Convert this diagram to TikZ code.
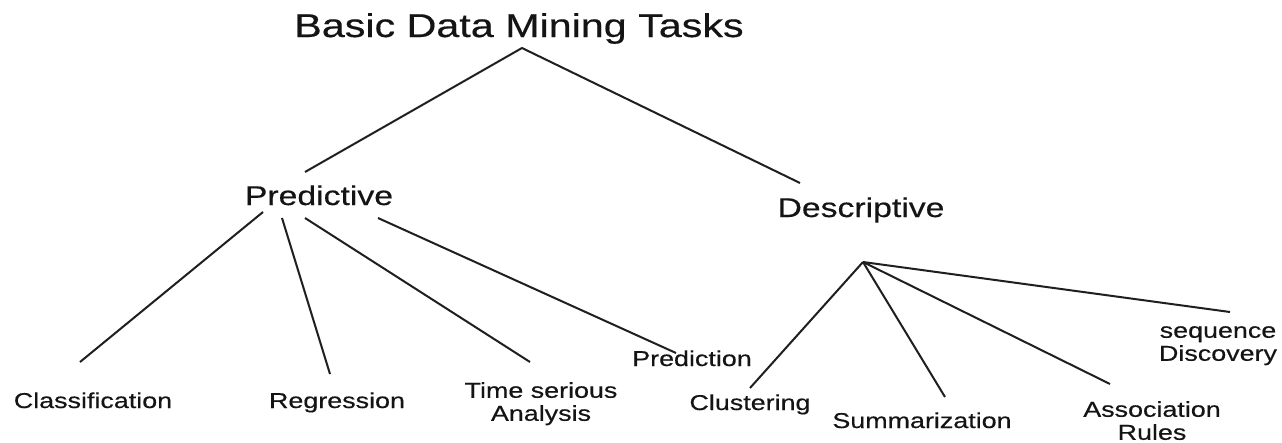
\documentclass[tikz,border=0pt]{standalone}
\usepackage{fontspec}
\setmainfont{Liberation Sans}[FakeStretch=1.25,FakeBold=0.4]
\begin{document}
\begin{tikzpicture}[x=1pt,y=-1pt,
  lbl/.style={inner sep=0pt, text=black!92, font=\fontsize{21.5}{23}\selectfont, align=center},
  big/.style={lbl, font=\fontsize{27}{30}\selectfont},
  edge/.style={draw=black!88, line width=2pt}]
\useasboundingbox (0,0) rectangle (1282,442);
\fill[white] (0,0) rectangle (1282,442);
% labels
\node[lbl, anchor=base, font=\fontsize{33}{36}\selectfont] (title) at (519,37) {Basic Data Mining Tasks};
\node[big, anchor=base] (pred) at (319,205) {Predictive};
\node[big, anchor=base] (desc) at (861,217) {Descriptive};
\node[lbl, anchor=base] (cls) at (93,408) {Classification};
\node[lbl, anchor=base] (reg) at (337,408) {Regression};
\node[lbl, anchor=north] (tsa) at (541,382) {Time serious\\Analysis};
\node[lbl, anchor=base] (prd) at (692,366) {Prediction};
\node[lbl, anchor=base] (clu) at (750,410) {Clustering};
\node[lbl, anchor=base] (sum) at (922,428) {Summarization};
\node[lbl, anchor=north] (asr) at (1152,401) {Association\\Rules};
\node[lbl, anchor=north] (seq) at (1218,326) {sequence\\Discovery};
% connector ends
\coordinate (apex) at (522,48);
\coordinate (predtop) at (305,172);
\coordinate (desctop) at (800,183);
\coordinate (ps1) at (263,212);
\coordinate (ps2) at (282,218);
\coordinate (ps3) at (305,218);
\coordinate (ps4) at (378,218);
\coordinate (clsend) at (80,362);
\coordinate (regend) at (330,374);
\coordinate (tsaend) at (530,362);
\coordinate (prdend) at (676,353);
\coordinate (hub) at (863,262);
\coordinate (cluend) at (750,388);
\coordinate (sumend) at (945,397);
\coordinate (asrend) at (1110,384);
\coordinate (seqend) at (1230,312);
% connectors
\draw[edge] (predtop) -- (apex) -- (desctop);
\draw[edge] (ps1) -- (clsend);
\draw[edge] (ps2) -- (regend);
\draw[edge] (ps3) -- (tsaend);
\draw[edge] (ps4) -- (prdend);
\draw[edge] (hub) -- (cluend);
\draw[edge] (hub) -- (sumend);
\draw[edge] (hub) -- (asrend);
\draw[edge] (hub) -- (seqend);
\end{tikzpicture}
\end{document}
